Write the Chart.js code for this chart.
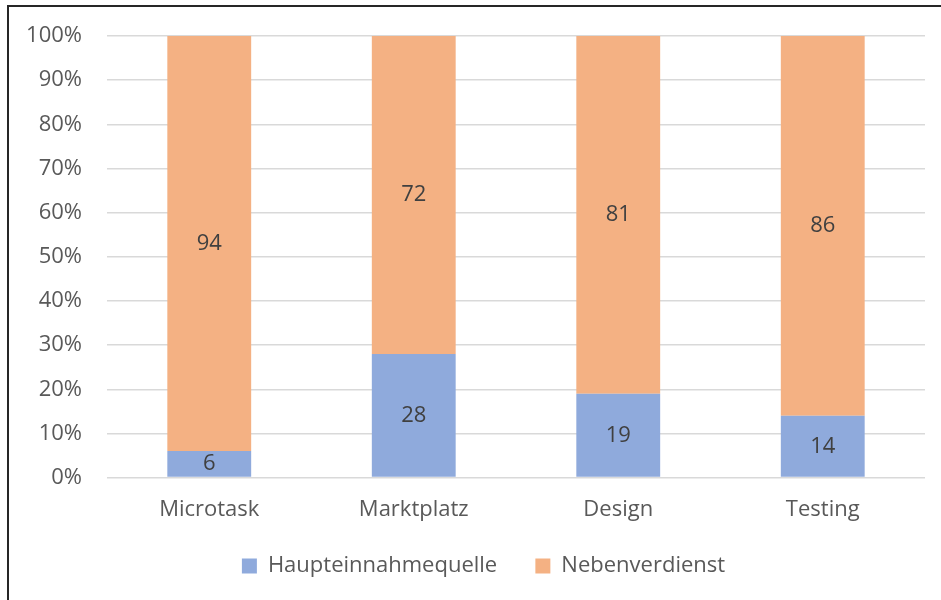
<!DOCTYPE html>
<html>
<head>
<meta charset="utf-8">
<script src="https://cdn.jsdelivr.net/npm/chart.js@4.4.1/dist/chart.umd.min.js"></script>
<style>
  html, body { margin: 0; padding: 0; background: #fff; overflow: hidden; }
  #wrap { position: relative; width: 941px; height: 600px; overflow: hidden; }
  #frame { position: absolute; left: 7px; top: 5px; width: 2000px; height: 2000px; border: 2px solid #262626; }
  #salesChart { position: absolute; left: 0; top: 0; }
</style>
</head>
<body>
<div id="wrap">
  <div id="frame"></div>
  <canvas id="salesChart" width="941" height="600"></canvas>
</div>
<script>
// ข้อมูลของกราฟ
const categories = ['Microtask', 'Marktplatz', 'Design', 'Testing'];
const seriesNames = ['Haupteinnahmequelle', 'Nebenverdienst'];
const hauptValues = [6, 28, 19, 14];
const nebenValues = [94, 72, 81, 86];
const yTicks = [0, 10, 20, 30, 40, 50, 60, 70, 80, 90, 100];

const FONT = 'Open Sans';
const FSIZE = 22;

// วาดตัวเลขกลางแท่ง
const barLabels = {
    id: 'barLabels',
    afterDatasetsDraw(chart) {
        const ctx = chart.ctx;
        ctx.save();
        ctx.font = FSIZE + 'px "' + FONT + '"';
        ctx.fillStyle = '#404040';
        ctx.textAlign = 'center';
        ctx.textBaseline = 'middle';
        chart.data.datasets.forEach((ds, i) => {
            chart.getDatasetMeta(i).data.forEach((bar, j) => {
                const mid = (bar.y + bar.base) / 2;
                ctx.fillText(String(ds.data[j]), bar.x, mid);
            });
        });
        ctx.restore();
    }
};

// เลื่อน legend ไปทางขวาเล็กน้อย
const legendShift = {
    id: 'legendShift',
    afterLayout(chart) {
        if (chart.legend) {
            chart.legend.left += 21;
            chart.legend.right += 21;
        }
    }
};

const ctx = document.getElementById('salesChart').getContext('2d');
new Chart(ctx, {
    type: 'bar',
    data: {
        labels: categories,
        datasets: [{
            label: seriesNames[0] + '   ', // เว้นช่องระหว่าง legend
            data: hauptValues,
            backgroundColor: '#8faadc',
            categoryPercentage: 1,
            barPercentage: 0.41
        }, {
            label: seriesNames[1],
            data: nebenValues,
            backgroundColor: '#f4b183',
            categoryPercentage: 1,
            barPercentage: 0.41
        }]
    },
    options: {
        responsive: false,
        animation: false,
        layout: {
            padding: { left: 0, right: 16, top: 15, bottom: 13 }
        },
        plugins: {
            legend: {
                position: 'bottom',
                labels: {
                    boxWidth: 15,
                    boxHeight: 15,
                    padding: 21,
                    color: '#595959',
                    font: { size: FSIZE, family: FONT }
                }
            },
            tooltip: { enabled: false }
        },
        scales: {
            x: {
                stacked: true,
                grid: { display: false },
                border: { display: false },
                ticks: {
                    color: '#595959',
                    padding: 11,
                    font: { size: FSIZE, family: FONT }
                }
            },
            y: {
                stacked: true,
                min: 0,
                max: 100,
                afterFit: function(scale) { scale.width = 107; },
                afterBuildTicks: function(scale) {
                    scale.ticks = yTicks.map(v => ({ value: v }));
                },
                grid: { color: '#d9d9d9', lineWidth: 1.5, drawTicks: false },
                border: { display: false },
                ticks: {
                    color: '#595959',
                    padding: 25,
                    font: { size: FSIZE, family: FONT, lineHeight: 1 },
                    callback: function(value) { return value + '%'; }
                }
            }
        }
    },
    plugins: [barLabels, legendShift]
});
</script>
</body>
</html>
